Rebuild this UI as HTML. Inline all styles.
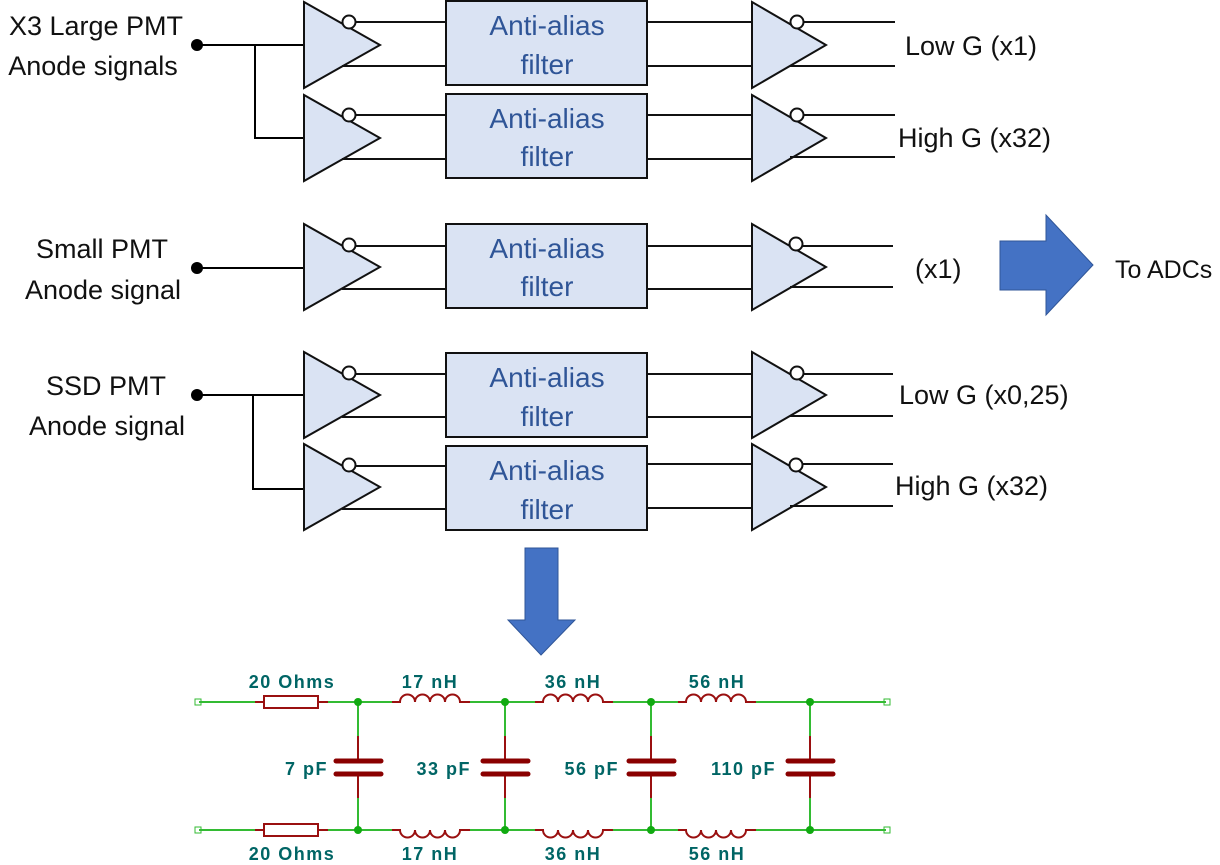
<!DOCTYPE html>
<html><head><meta charset="utf-8"><style>
html,body{margin:0;padding:0;background:#fff;width:1220px;height:865px;overflow:hidden}
svg{display:block}
.t{font-family:"Liberation Sans",sans-serif;font-size:27px;fill:#111}
.f{font-family:"Liberation Sans",sans-serif;font-size:28px;fill:#2f5597;text-anchor:middle}
.c{font-family:"Liberation Sans",sans-serif;font-weight:bold;font-size:18px;fill:#006565;letter-spacing:1.5px}
</style></head><body>
<svg width="1220" height="865" viewBox="0 0 1220 865" xmlns="http://www.w3.org/2000/svg">
<g stroke="#000" stroke-width="2" fill="none">
<line x1="197" y1="45" x2="304" y2="45"/><polyline points="255,45 255,138 304,138"/>
<line x1="197" y1="268" x2="304" y2="268"/>
<line x1="197" y1="395" x2="304" y2="395"/><polyline points="253,395 253,489 304,489"/>
</g>
<g fill="#000"><circle cx="197" cy="45" r="6"/><circle cx="197" cy="268" r="6"/><circle cx="197" cy="395" r="6"/></g>

<g stroke="#111" stroke-width="2" fill="#dae3f3">
<polygon points="304,2 304,88 380,45"/><rect x="446" y="1" width="201" height="84"/><polygon points="752,2 752,88 826,45"/>
<polygon points="304,95 304,181 380,138"/><rect x="446" y="94" width="201" height="84"/><polygon points="752,95 752,181 826,138"/>
<polygon points="304,224 304,310 380,267"/><rect x="446" y="224" width="201" height="84"/><polygon points="752,224 752,310 826,267"/>
<polygon points="304,352 304,438 380,395"/><rect x="446" y="353" width="201" height="84"/><polygon points="752,352 752,438 826,395"/>
<polygon points="304,444 304,530 380,487"/><rect x="446" y="446" width="201" height="84"/><polygon points="752,444 752,530 826,487"/>
</g>
<g stroke="#111" stroke-width="2" fill="none">
<line x1="354" y1="22" x2="446" y2="22"/><line x1="342" y1="66" x2="446" y2="66"/><line x1="647" y1="22" x2="752" y2="22"/><line x1="647" y1="66" x2="752" y2="66"/><line x1="802" y1="22" x2="895" y2="22"/><line x1="790" y1="66" x2="895" y2="66"/>
<line x1="354" y1="115" x2="446" y2="115"/><line x1="342" y1="159" x2="446" y2="159"/><line x1="647" y1="115" x2="752" y2="115"/><line x1="647" y1="159" x2="752" y2="159"/><line x1="802" y1="115" x2="895" y2="115"/><line x1="790" y1="157" x2="895" y2="157"/>
<line x1="354" y1="246" x2="446" y2="246"/><line x1="342" y1="289" x2="446" y2="289"/><line x1="647" y1="246" x2="752" y2="246"/><line x1="647" y1="289" x2="752" y2="289"/><line x1="802" y1="246" x2="893" y2="246"/><line x1="790" y1="287" x2="893" y2="287"/>
<line x1="354" y1="374" x2="446" y2="374"/><line x1="342" y1="417" x2="446" y2="417"/><line x1="647" y1="374" x2="752" y2="374"/><line x1="647" y1="417" x2="752" y2="417"/><line x1="802" y1="374" x2="893" y2="374"/><line x1="790" y1="416" x2="893" y2="416"/>
<line x1="354" y1="466" x2="446" y2="466"/><line x1="342" y1="509" x2="446" y2="509"/><line x1="647" y1="464" x2="752" y2="464"/><line x1="647" y1="508" x2="752" y2="508"/><line x1="802" y1="464" x2="893" y2="464"/><line x1="790" y1="506" x2="893" y2="506"/>
</g>
<g stroke="#111" stroke-width="2" fill="#fff">
<circle cx="349" cy="22" r="6.5"/><circle cx="797" cy="22" r="6.5"/>
<circle cx="349" cy="115" r="6.5"/><circle cx="797" cy="115" r="6.5"/>
<circle cx="349" cy="245" r="6.5"/><circle cx="796" cy="244" r="6.5"/>
<circle cx="349" cy="373" r="6.5"/><circle cx="797" cy="373" r="6.5"/>
<circle cx="349" cy="465" r="6.5"/><circle cx="796" cy="465" r="6.5"/>
</g>
<text class="f" x="547" y="35">Anti-alias</text><text class="f" x="547" y="74">filter</text>
<text class="f" x="547" y="128">Anti-alias</text><text class="f" x="547" y="166">filter</text>
<text class="f" x="547" y="258">Anti-alias</text><text class="f" x="547" y="296">filter</text>
<text class="f" x="547" y="387">Anti-alias</text><text class="f" x="547" y="426">filter</text>
<text class="f" x="547" y="480">Anti-alias</text><text class="f" x="547" y="519">filter</text>

<text class="t" x="96" y="35" text-anchor="middle">X3 Large PMT</text>
<text class="t" x="93" y="75" text-anchor="middle">Anode signals</text>
<text class="t" x="102" y="258" text-anchor="middle">Small PMT</text>
<text class="t" x="103" y="299" text-anchor="middle">Anode signal</text>
<text class="t" x="106" y="395" text-anchor="middle">SSD PMT</text>
<text class="t" x="107" y="435" text-anchor="middle">Anode signal</text>
<text class="t" x="905" y="55">Low G (x1)</text>
<text class="t" x="898" y="147">High G (x32)</text>
<text class="t" x="915" y="278">(x1)</text>
<text class="t" x="899" y="404">Low G (x0,25)</text>
<text class="t" x="895" y="495">High G (x32)</text>
<text class="t" x="1115" y="278" style="font-size:25px">To ADCs</text>

<polygon points="1000,241 1046,241 1046,215 1093,265 1046,315 1046,290 1000,290" fill="#4472c4" stroke="#2f5597" stroke-width="1"/>
<polygon points="525,548 558,548 558,620 575,620 541,655 508,620 525,620" fill="#4472c4" stroke="#2f5597" stroke-width="1"/>

<g stroke="#33bb33" stroke-width="2" fill="none">
<line x1="199" y1="702" x2="255" y2="702"/><line x1="328" y1="702" x2="392" y2="702"/><line x1="470" y1="702" x2="535" y2="702"/><line x1="613" y1="702" x2="678" y2="702"/><line x1="756" y1="702" x2="886" y2="702"/>
<line x1="199" y1="830" x2="255" y2="830"/><line x1="328" y1="830" x2="392" y2="830"/><line x1="470" y1="830" x2="535" y2="830"/><line x1="613" y1="830" x2="678" y2="830"/><line x1="756" y1="830" x2="886" y2="830"/>
<line x1="358" y1="702" x2="358" y2="736"/><line x1="358" y1="798" x2="358" y2="830"/>
<line x1="505" y1="702" x2="505" y2="736"/><line x1="505" y1="798" x2="505" y2="830"/>
<line x1="651" y1="702" x2="651" y2="736"/><line x1="651" y1="798" x2="651" y2="830"/>
<line x1="810" y1="702" x2="810" y2="736"/><line x1="810" y1="798" x2="810" y2="830"/>
<rect x="195" y="699" width="6" height="6" stroke-width="1"/><rect x="884" y="699" width="6" height="6" stroke-width="1"/>
<rect x="195" y="827" width="6" height="6" stroke-width="1"/><rect x="884" y="827" width="6" height="6" stroke-width="1"/>
</g>
<g stroke="#9a1010" stroke-width="2" fill="none">
<line x1="255" y1="702" x2="264" y2="702"/><line x1="318" y1="702" x2="328" y2="702"/><rect x="264" y="696" width="54" height="12"/>
<line x1="255" y1="830" x2="264" y2="830"/><line x1="318" y1="830" x2="328" y2="830"/><rect x="264" y="824" width="54" height="12"/>
<path d="M392 702h8a7.5 7.5 0 0 1 15 0a7.5 7.5 0 0 1 15 0a7.5 7.5 0 0 1 15 0a7.5 7.5 0 0 1 15 0h10"/>
<path d="M535 702h8a7.5 7.5 0 0 1 15 0a7.5 7.5 0 0 1 15 0a7.5 7.5 0 0 1 15 0a7.5 7.5 0 0 1 15 0h10"/>
<path d="M678 702h8a7.5 7.5 0 0 1 15 0a7.5 7.5 0 0 1 15 0a7.5 7.5 0 0 1 15 0a7.5 7.5 0 0 1 15 0h10"/>
<path d="M392 830h8a7.5 7.5 0 0 0 15 0a7.5 7.5 0 0 0 15 0a7.5 7.5 0 0 0 15 0a7.5 7.5 0 0 0 15 0h10"/>
<path d="M535 830h8a7.5 7.5 0 0 0 15 0a7.5 7.5 0 0 0 15 0a7.5 7.5 0 0 0 15 0a7.5 7.5 0 0 0 15 0h10"/>
<path d="M678 830h8a7.5 7.5 0 0 0 15 0a7.5 7.5 0 0 0 15 0a7.5 7.5 0 0 0 15 0a7.5 7.5 0 0 0 15 0h10"/>
<line x1="358" y1="736" x2="358" y2="761"/><line x1="358" y1="773" x2="358" y2="798"/>
<line x1="505" y1="736" x2="505" y2="761"/><line x1="505" y1="773" x2="505" y2="798"/>
<line x1="651" y1="736" x2="651" y2="761"/><line x1="651" y1="773" x2="651" y2="798"/>
<line x1="810" y1="736" x2="810" y2="761"/><line x1="810" y1="773" x2="810" y2="798"/>
</g>
<g stroke="#8a0000" stroke-width="5" stroke-linecap="round">
<line x1="336" y1="761" x2="381" y2="761"/><line x1="336" y1="774" x2="381" y2="774"/>
<line x1="483" y1="761" x2="528" y2="761"/><line x1="483" y1="774" x2="528" y2="774"/>
<line x1="629" y1="761" x2="674" y2="761"/><line x1="629" y1="774" x2="674" y2="774"/>
<line x1="788" y1="761" x2="833" y2="761"/><line x1="788" y1="774" x2="833" y2="774"/>
</g>
<g fill="#11aa11">
<circle cx="358" cy="702" r="4"/><circle cx="505" cy="702" r="4"/><circle cx="651" cy="702" r="4"/><circle cx="810" cy="702" r="4"/>
<circle cx="358" cy="830" r="4"/><circle cx="505" cy="830" r="4"/><circle cx="651" cy="830" r="4"/><circle cx="810" cy="830" r="4"/>
</g>
<text class="c" x="292" y="688" text-anchor="middle">20 Ohms</text>
<text class="c" x="430" y="688" text-anchor="middle">17 nH</text>
<text class="c" x="573" y="688" text-anchor="middle">36 nH</text>
<text class="c" x="717" y="688" text-anchor="middle">56 nH</text>
<text class="c" x="292" y="860" text-anchor="middle">20 Ohms</text>
<text class="c" x="430" y="860" text-anchor="middle">17 nH</text>
<text class="c" x="573" y="860" text-anchor="middle">36 nH</text>
<text class="c" x="717" y="860" text-anchor="middle">56 nH</text>
<text class="c" x="328" y="775" text-anchor="end">7 pF</text>
<text class="c" x="471" y="775" text-anchor="end">33 pF</text>
<text class="c" x="619" y="775" text-anchor="end">56 pF</text>
<text class="c" x="776" y="775" text-anchor="end">110 pF</text>
</svg>
</body></html>
